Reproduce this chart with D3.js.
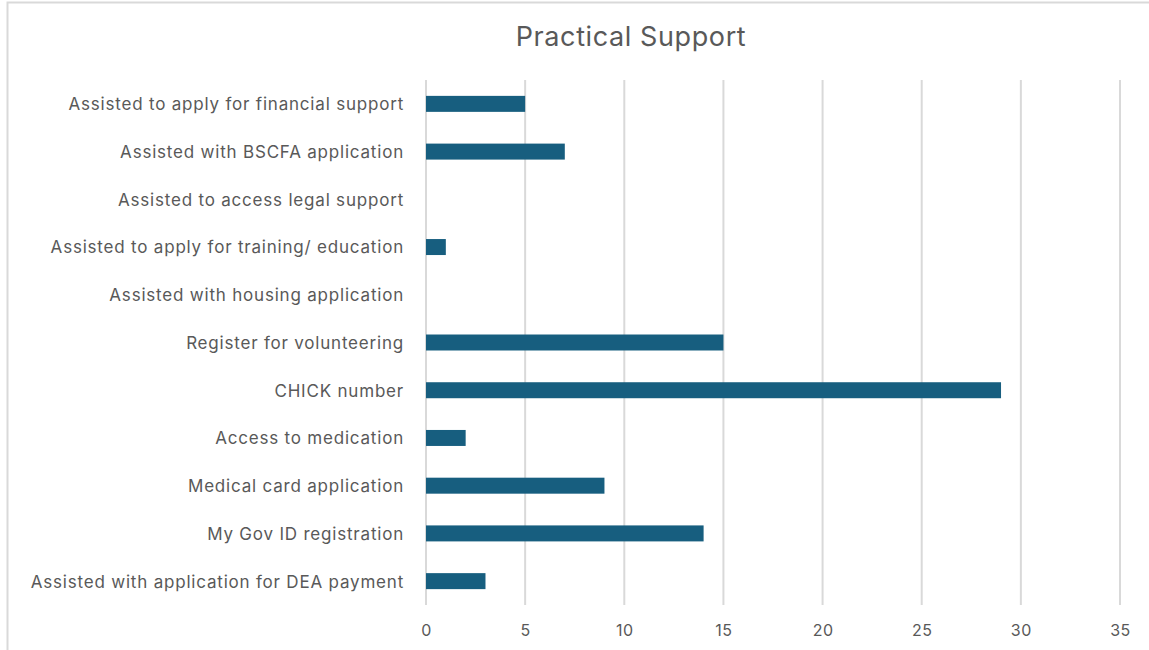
<!DOCTYPE html>
<html>
<head>
<meta charset="utf-8">
<script src="https://cdn.jsdelivr.net/npm/d3@7"></script>
<style>
  body { margin: 0; background: #fff; }
  svg { display: block; font-family: Inter, "Open Sans", sans-serif; }
</style>
</head>
<body>
<svg class="chart"></svg>
<script>
var categories = [
	"Assisted to apply for financial support",
	"Assisted with BSCFA application",
	"Assisted to access legal support",
	"Assisted to apply for training/ education ",
	"Assisted with housing application",
	"Register for volunteering",
	"CHICK number",
	"Access to medication ",
	"Medical card application",
	"My Gov ID registration",
	"Assisted with application for DEA payment "
];
var values = [5, 7, 0, 1, 0, 15, 29, 2, 9, 14, 3];
var tickValues = [0, 5, 10, 15, 20, 25, 30, 35];

var W = 1149, H = 650;
var margin = {top: 80, right: 29, bottom: 45, left: 426};

var svg = d3.select(".chart")
	.attr("width", W)
	.attr("height", H);

// chart area border (top + left visible)
svg.append("rect")
	.attr("x", 7.5).attr("y", 2.5)
	.attr("width", W + 10).attr("height", H + 10)
	.attr("fill", "none")
	.attr("stroke", "#d9d9d9")
	.attr("stroke-width", 2);

var x = d3.scaleLinear()
	.domain([0, 35])
	.range([margin.left, W - margin.right]);

var y = d3.scaleBand()
	.domain(categories)
	.range([margin.top, H - margin.bottom])
	.padding(0);

var barH = y.step() * 0.335;

svg.append("text")
	.attr("x", 631)
	.attr("y", 46)
	.attr("text-anchor", "middle")
	.attr("fill", "#595959")
	.attr("font-size", 27)
	.attr("letter-spacing", "0.6px")
	.text("Practical Support");

// gridlines
svg.append("g")
	.selectAll("line")
	.data(tickValues)
	.enter()
	.append("line")
	.attr("x1", d => x(d)).attr("x2", d => x(d))
	.attr("y1", margin.top).attr("y2", H - margin.bottom)
	.attr("stroke", "#d9d9d9")
	.attr("stroke-width", 2);

// x tick labels
var xAxis = d3.axisBottom(x).tickValues(tickValues).tickSize(0).tickPadding(0);
svg.append("g")
	.attr("transform", "translate(0,625)")
	.call(xAxis)
	.call(g => g.select(".domain").remove())
	.selectAll("text")
	.attr("fill", "#595959")
	.attr("font-size", 16)
	.attr("letter-spacing", "0.5px")
	.attr("font-family", "Inter, 'Open Sans', sans-serif");

// y labels
var yAxis = d3.axisLeft(y).tickSize(0).tickPadding(0);
svg.append("g")
	.attr("transform", "translate(404,1)")
	.call(yAxis)
	.call(g => g.select(".domain").remove())
	.selectAll("text")
	.attr("fill", "#595959")
	.attr("font-size", 17)
	.attr("letter-spacing", "0.8px")
	.attr("font-family", "Inter, 'Open Sans', sans-serif");

svg.append("g")
	.selectAll("rect")
	.data(values)
	.enter()
	.append("rect")
	.attr("x", x(0))
	.attr("y", (d, i) => y(categories[i]) + (y.step() - barH) / 2)
	.attr("width", d => x(d) - x(0))
	.attr("height", barH)
	.attr("fill", "#175e7f");
</script>
</body>
</html>
